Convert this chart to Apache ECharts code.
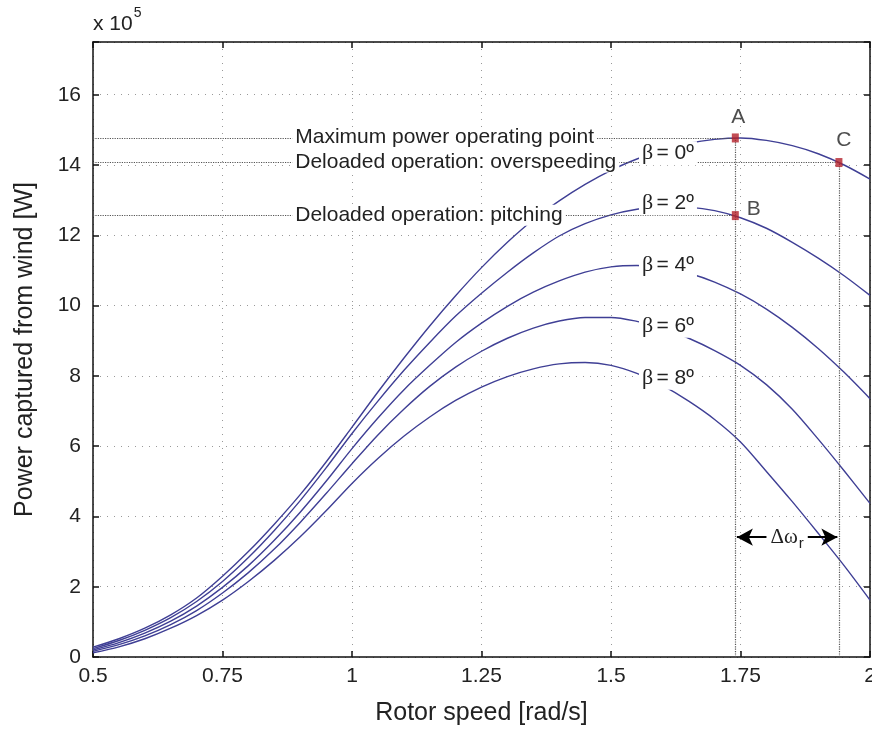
<!DOCTYPE html>
<html>
<head>
<meta charset="utf-8">
<script src="https://cdn.jsdelivr.net/npm/echarts@6/dist/echarts.min.js"></script>
<style>html,body{margin:0;padding:0;background:#fff;}#c{width:872px;height:736px;}</style>
</head>
<body>
<div id="c"></div>
<script>
// ---- data ----
const speed = [0.5, 0.55, 0.6, 0.65, 0.7, 0.75, 0.8, 0.85, 0.9, 0.95, 1.0, 1.05, 1.1, 1.15, 1.2, 1.25,
               1.3, 1.35, 1.4, 1.45, 1.5, 1.55, 1.6, 1.65, 1.7, 1.75, 1.8, 1.85, 1.9, 1.95, 2.0];
const beta0 = [0.28, 0.52, 0.82, 1.2, 1.68, 2.3, 3.0, 3.78, 4.62, 5.55, 6.54, 7.54, 8.5, 9.42, 10.28, 11.08,
               11.8, 12.44, 12.98, 13.45, 13.85, 14.17, 14.43, 14.62, 14.73, 14.77, 14.7, 14.55, 14.32, 14.0, 13.6];
const beta2 = [0.24, 0.47, 0.76, 1.12, 1.58, 2.15, 2.83, 3.6, 4.45, 5.38, 6.36, 7.28, 8.15, 8.95, 9.7, 10.35,
               10.95, 11.5, 11.98, 12.33, 12.58, 12.74, 12.82, 12.8, 12.7, 12.5, 12.2, 11.8, 11.35, 10.85, 10.29];
const beta4 = [0.2, 0.41, 0.68, 1.02, 1.45, 1.98, 2.6, 3.32, 4.12, 5.0, 5.93, 6.8, 7.6, 8.3, 8.95, 9.5,
               9.98, 10.38, 10.7, 10.95, 11.1, 11.14, 11.08, 10.92, 10.67, 10.33, 9.9, 9.38, 8.78, 8.1, 7.35];
const beta6 = [0.16, 0.35, 0.6, 0.92, 1.32, 1.82, 2.4, 3.07, 3.83, 4.65, 5.5, 6.32, 7.05, 7.7, 8.25, 8.7,
               9.07, 9.36, 9.56, 9.66, 9.66, 9.55, 9.36, 9.07, 8.72, 8.3, 7.75, 7.05, 6.2, 5.3, 4.37];
const beta8 = [0.12, 0.29, 0.52, 0.82, 1.18, 1.62, 2.15, 2.75, 3.42, 4.16, 4.94, 5.65, 6.28, 6.83, 7.3, 7.68,
               7.98, 8.2, 8.34, 8.38, 8.3, 8.07, 7.72, 7.28, 6.76, 6.12, 5.28, 4.42, 3.52, 2.6, 1.62];
const betaNames = ['β = 0º', 'β = 2º', 'β = 4º', 'β = 6º', 'β = 8º'];
const betaLabelX = [1.61, 1.61, 1.61, 1.61, 1.61];
const betaLabelY = [14.32, 12.9, 11.14, 9.41, 7.93];
const xTicks = [0.5, 0.75, 1, 1.25, 1.5, 1.75, 2];
const yTicks = [0, 2, 4, 6, 8, 10, 12, 14, 16];
const pointNames = ['A', 'B', 'C'];
const pointX = [1.74, 1.74, 1.94];
const pointY = [14.77, 12.56, 14.07];
const noteTexts = ['Maximum power operating point', 'Deloaded operation: overspeeding', 'Deloaded operation: pitching'];
const noteY = [14.77, 14.07, 12.56];
const noteX = 0.884;
const deltaY = 3.41;

const FONT = '"Liberation Sans", Arial, Helvetica, sans-serif';
const SERIF = '"Liberation Serif", "Times New Roman", serif';
const curveColor = '#3f3f95';
const allBetas = [beta0, beta2, beta4, beta6, beta8];

const chart = echarts.init(document.getElementById('c'), null, {renderer: 'canvas'});

const axisCommon = {
  type: 'value',
  axisLine: {show: true, onZero: false, lineStyle: {color: '#111', width: 1.5}},
  axisTick: {show: true, inside: true, length: 6, lineStyle: {color: '#111', width: 1.5}},
  splitLine: {show: false},
  axisLabel: {show: false}
};

const curveSeries = allBetas.map((vals, i) => ({
  type: 'line',
  name: betaNames[i],
  data: speed.map((x, k) => [x, vals[k]]),
  smooth: 0.3,
  symbol: 'none',
  z: 2,
  lineStyle: {color: curveColor, width: 1.4},
  animation: false
}));

const labelPoints = betaNames.map((n, i) => ({
  coord: [betaLabelX[i], betaLabelY[i]],
  symbolSize: 1,
  itemStyle: {color: 'rgba(0,0,0,0)'},
  label: {
    show: true, position: 'inside',
    formatter: '{g|β} {t|= ' + n.split('= ')[1] + '}',
    backgroundColor: '#fff', padding: [1, 3],
    rich: {
      g: {fontFamily: SERIF, fontSize: 22, color: '#222'},
      t: {fontFamily: FONT, fontSize: 21, color: '#222'}
    }
  }
}));

const notePoints = noteTexts.map((t, i) => ({
  coord: [noteX, noteY[i]],
  symbolSize: 1,
  itemStyle: {color: 'rgba(0,0,0,0)'},
  label: {
    show: true, position: 'right', distance: 0,
    formatter: t, fontFamily: FONT, fontSize: 21, color: '#222',
    backgroundColor: '#fff', padding: [0, 3]
  }
}));

const guideStyle = {color: '#555', width: 1.2, type: 'dotted'};
const guideLines = [
  [{coord: [0.5, pointY[0]]}, {coord: [pointX[0], pointY[0]]}],
  [{coord: [0.5, pointY[2]]}, {coord: [pointX[2], pointY[2]]}],
  [{coord: [0.5, pointY[1]]}, {coord: [pointX[1], pointY[1]]}],
  [{coord: [pointX[0], 0]}, {coord: [pointX[0], pointY[0]]}],
  [{coord: [pointX[2], 0]}, {coord: [pointX[2], pointY[2]]}]
].map(seg => seg.map(p => Object.assign(p, {symbol: 'none'})));

const deltaLine = [
  {coord: [pointX[0] + 0.003, deltaY], symbol: 'arrow', symbolSize: [13, 16]},
  {coord: [pointX[2] - 0.003, deltaY], symbol: 'arrow', symbolSize: [13, 16],
   lineStyle: {color: '#000', width: 2, type: 'solid'},
   label: {
     show: true, position: 'insideMiddle',
     formatter: '{d|Δω}{r|r}',
     backgroundColor: '#fff', padding: [0, 4],
     rich: {
       d: {fontFamily: SERIF, fontSize: 21, color: '#222'},
       r: {fontFamily: FONT, fontSize: 15, color: '#222', padding: [14, 0, 0, 1]}
     }
   }}
];

const option = {
  animation: false,
  backgroundColor: '#fff',
  grid: {left: 93, right: 2, top: 42, bottom: 79, containLabel: false, outerBoundsMode: 'none'},
  xAxis: [
    Object.assign({}, axisCommon, {
      position: 'bottom', min: 0.5, max: 2, interval: 0.25,
      name: 'Rotor speed [rad/s]', nameLocation: 'middle', nameGap: 44,
      nameTextStyle: {fontFamily: FONT, fontSize: 25, color: '#222'},
      axisLabel: {show: true, fontFamily: FONT, fontSize: 21, color: '#222', margin: 9,
        formatter: v => (xTicks.indexOf(v) >= 0 ? String(v) : '')},
      splitLine: {show: true, lineStyle: {color: '#999', width: 1, type: [1, 6]}}
    }),
    Object.assign({}, axisCommon, {position: 'top', min: 0.5, max: 2, interval: 0.25})
  ],
  yAxis: [
    Object.assign({}, axisCommon, {
      position: 'left', min: 0, max: 17.5, interval: 2,
      name: 'Power captured from wind [W]', nameLocation: 'middle', nameGap: 55,
      nameTextStyle: {fontFamily: FONT, fontSize: 25, color: '#222'},
      axisLabel: {show: true, fontFamily: FONT, fontSize: 21, color: '#222', margin: 12,
        formatter: v => (yTicks.indexOf(v) >= 0 ? String(v) : '')},
      splitLine: {show: true, lineStyle: {color: '#999', width: 1, type: [1, 6]}}
    }),
    Object.assign({}, axisCommon, {position: 'right', min: 0, max: 17.5, interval: 2})
  ],
  graphic: [{
    type: 'text', left: 93, top: 6, z: 10,
    style: {
      text: '{a|x 10}{s|5}',
      rich: {
        a: {fontFamily: FONT, fontSize: 21, fill: '#222', lineHeight: 30, verticalAlign: 'bottom'},
        s: {fontFamily: FONT, fontSize: 14, fill: '#222', padding: [0, 0, 14, 1]}
      }
    }
  }],
  series: curveSeries.concat([
    {
      type: 'line', name: 'guides', data: [], z: 3, symbol: 'none',
      markLine: {
        silent: true, animation: false, symbol: 'none',
        lineStyle: guideStyle,
        label: {show: false},
        data: guideLines.concat([deltaLine])
      }
    },
    {
      type: 'scatter', name: 'points', z: 5,
      data: pointX.map((x, i) => ({
        value: [x, pointY[i]],
        label: {
          show: true,
          formatter: pointNames[i],
          position: i === 1 ? 'right' : 'top',
          distance: i === 1 ? 8 : 6,
          offset: i === 0 ? [3, 0] : (i === 2 ? [5, -1] : [0, -6]),
          fontFamily: FONT, fontSize: 21, color: '#222'
        }
      })),
      symbol: 'rect', symbolSize: [7, 9],
      itemStyle: {color: '#b3202b'},
      markPoint: {
        silent: true, animation: false,
        data: labelPoints.concat(notePoints)
      }
    }
  ])
};
chart.setOption(option);
</script>
</body>
</html>
